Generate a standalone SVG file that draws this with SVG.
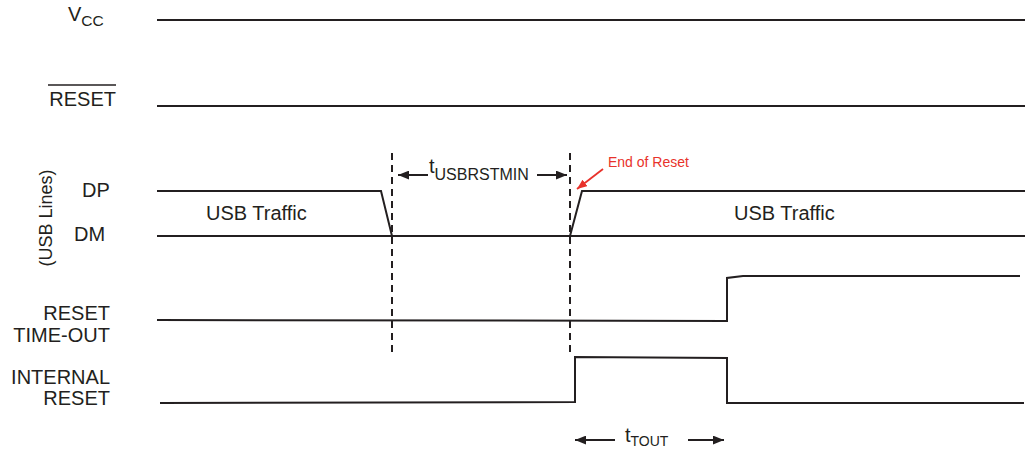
<svg xmlns="http://www.w3.org/2000/svg" width="1029" height="449" viewBox="0 0 1029 449">
  <style>
    .lbl { font-family: "Liberation Sans", Arial, sans-serif; font-size: 20px; fill: #231f20; }
    .sub { font-size: 15.5px; }
    .sig { fill: none; stroke: #231f20; stroke-width: 2; stroke-linejoin: miter; }
    .dash { fill: none; stroke: #231f20; stroke-width: 2; stroke-dasharray: 7 5; }
    .dim { fill: none; stroke: #231f20; stroke-width: 2; }
    .red { font-family: "Liberation Sans", Arial, sans-serif; font-size: 14px; fill: #e8322b; }
  </style>
  <defs>
    <marker id="ah" viewBox="0 0 10 8" refX="10" refY="4" markerWidth="11" markerHeight="9" markerUnits="userSpaceOnUse" orient="auto">
      <path d="M0,0 L10,4 L0,8 Z" fill="#231f20"/>
    </marker>
    <marker id="ahr" viewBox="0 0 10 8" refX="10" refY="4" markerWidth="10" markerHeight="8" markerUnits="userSpaceOnUse" orient="auto">
      <path d="M0,0 L10,4 L0,8 Z" fill="#e8322b"/>
    </marker>
  </defs>

  <g id="vcc">
    <text class="lbl" x="68" y="21">V<tspan class="sub" dy="5">CC</tspan></text>
    <path class="sig" d="M157,20 H1025"/>
  </g>

  <g id="reset-n">
    <text class="lbl" x="116" y="106" text-anchor="end">RESET</text>
    <path d="M48,85 H116" stroke="#231f20" stroke-width="1.5"/>
    <path class="sig" d="M157,106 H1025"/>
  </g>

  <g id="usb-lines">
    <text class="lbl" x="52" y="218" text-anchor="middle" transform="rotate(-90 52 218)" style="font-size:18px">(USB Lines)</text>
    <text class="lbl" x="82" y="197">DP</text>
    <text class="lbl" x="74" y="241">DM</text>
    <path class="sig" d="M157,191 H381 L392,236"/>
    <path class="sig" d="M157,236 H1025"/>
    <path class="sig" d="M570,236 L582,191 H1025"/>
    <text class="lbl" x="206" y="220">USB Traffic</text>
    <text class="lbl" x="734" y="220">USB Traffic</text>
  </g>

  <g id="reset-timeout">
    <text class="lbl" x="110" y="320" text-anchor="end">RESET</text>
    <text class="lbl" x="110" y="342" text-anchor="end">TIME-OUT</text>
    <path class="sig" d="M157,320 L727,321 V278 L743,276 H1020"/>
  </g>

  <g id="internal-reset">
    <text class="lbl" x="110" y="384" text-anchor="end">INTERNAL</text>
    <text class="lbl" x="110" y="405" text-anchor="end">RESET</text>
    <path class="sig" d="M160,403 L575,402 V357 L727,358 V403 H1024"/>
  </g>

  <g id="connectors">
    <path class="dash" d="M392,153 V355"/>
    <path class="dash" d="M570,153 V355"/>
    <path class="dim" d="M428,175 H398" marker-end="url(#ah)"/>
    <path class="dim" d="M537,175 H567" marker-end="url(#ah)"/>
    <path class="dim" d="M615,440 H575" marker-end="url(#ah)"/>
    <path class="dim" d="M688,440 H724" marker-end="url(#ah)"/>
    <path d="M603,169 L577,189" stroke="#e8322b" stroke-width="1.8" fill="none" marker-end="url(#ahr)"/>
  </g>

  <g id="timing-labels">
    <text class="lbl" x="429" y="173">t<tspan class="sub" dy="7" style="font-size:16px">USBRSTMIN</tspan></text>
    <text class="lbl" x="625" y="442">t<tspan class="sub" dy="4" style="font-size:14px">TOUT</tspan></text>
    <text class="red" x="608" y="167">End of Reset</text>
  </g>
</svg>
